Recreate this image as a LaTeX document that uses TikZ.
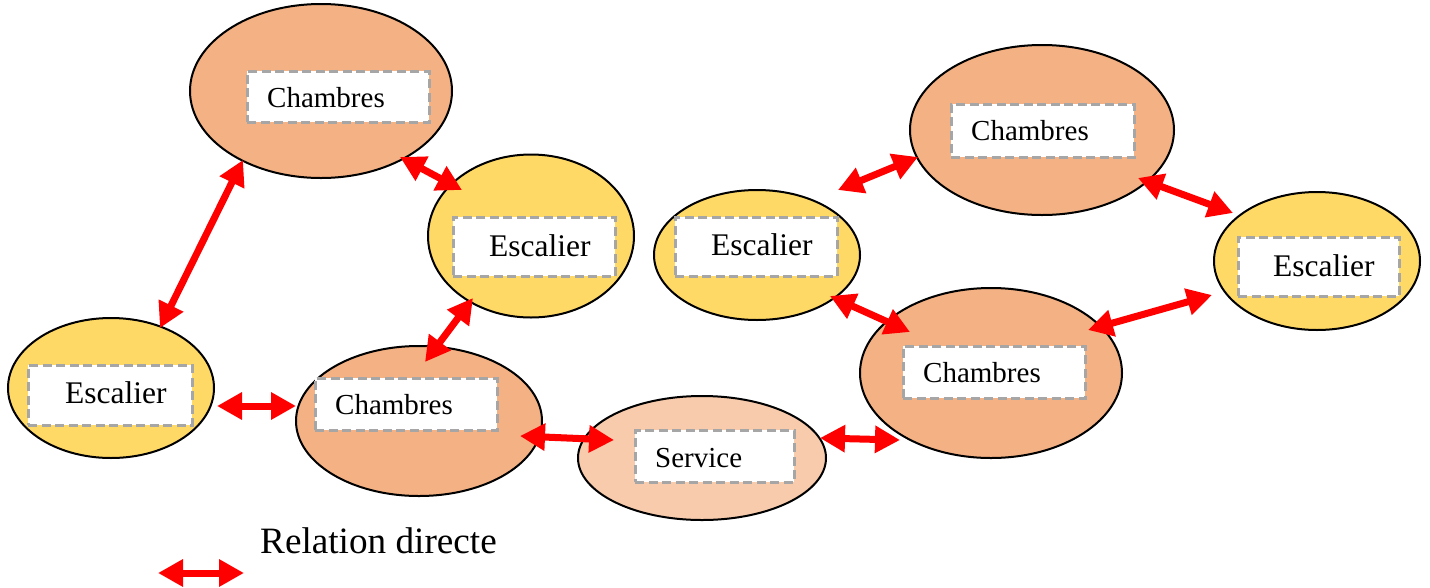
\documentclass[tikz,border=0pt]{standalone}
\usepackage{fontspec}
\setmainfont{Liberation Serif}
\usetikzlibrary{shapes.geometric,arrows.meta}
\definecolor{chcol}{HTML}{F4B183}
\definecolor{escol}{HTML}{FFD966}
\definecolor{secol}{HTML}{F8CBAD}
\definecolor{boxgray}{HTML}{A6A6A6}
\definecolor{relred}{HTML}{FF0000}
\tikzset{
  blob/.style={ellipse, draw=black, line width=2pt, inner sep=0pt, outer sep=0pt},
  chb/.style={blob, fill=chcol},
  esc/.style={blob, fill=escol},
  srv/.style={blob, fill=secol},
  lbox/.style={rectangle, draw=boxgray, fill=white, line width=2.8pt, dash pattern=on 9pt off 4.5pt, inner sep=0pt, anchor=north west},
  lbl/.style={anchor=base west, inner sep=0pt, text=black},
  rel/.style={draw=relred, line width=7pt, {Triangle[width=26pt,length=25pt]}-{Triangle[width=26pt,length=25pt]}}
}
\begin{document}
\begin{tikzpicture}[x=1pt,y=-1pt]
\useasboundingbox (0,0) rectangle (1430,587);
% ellipses
\node[chb, minimum width=262pt, minimum height=174pt] (c1) at (321,91) {};
\node[esc, minimum width=206pt, minimum height=163pt] (e2) at (531,236) {};
\node[esc, minimum width=206pt, minimum height=140pt] (e1) at (111,388) {};
\node[chb, minimum width=246pt, minimum height=150pt] (c2) at (419,421) {};
\node[srv, minimum width=248pt, minimum height=124pt] (s) at (702,458) {};
\node[esc, minimum width=206pt, minimum height=130pt] (e3) at (757,255) {};
\node[chb, minimum width=264pt, minimum height=170pt] (c3) at (1042,130) {};
\node[esc, minimum width=206pt, minimum height=138pt] (e4) at (1317,261) {};
\node[chb, minimum width=262pt, minimum height=170pt] (c4) at (991,373) {};
% label boxes
\node[lbox, minimum width=182pt, minimum height=51pt] (b1) at (246,70) {};
\node[lbox, minimum width=162pt, minimum height=59pt] (b2) at (452,216) {};
\node[lbox, minimum width=164pt, minimum height=60pt] (b3) at (27,364) {};
\node[lbox, minimum width=182pt, minimum height=52pt] (b4) at (314,377) {};
\node[lbox, minimum width=159pt, minimum height=52pt] (b5) at (634,429) {};
\node[lbox, minimum width=162pt, minimum height=59pt] (b6) at (674,216) {};
\node[lbox, minimum width=183pt, minimum height=53pt] (b7) at (950,103) {};
\node[lbox, minimum width=161pt, minimum height=59pt] (b8) at (1237,236) {};
\node[lbox, minimum width=182pt, minimum height=52pt] (b9) at (902,345) {};
% texts
\node[lbl, font=\fontsize{29}{34}\selectfont] (t1) at (267,107) {Chambres};
\node[lbl, font=\fontsize{31.5}{36}\selectfont] (t2) at (489,256) {Escalier};
\node[lbl, font=\fontsize{31.5}{36}\selectfont] (t3) at (65,403) {Escalier};
\node[lbl, font=\fontsize{29}{34}\selectfont] (t4) at (335,414) {Chambres};
\node[lbl, font=\fontsize{29}{34}\selectfont] (t5) at (655,467) {Service};
\node[lbl, font=\fontsize{31.5}{36}\selectfont] (t6) at (711,255) {Escalier};
\node[lbl, font=\fontsize{29}{34}\selectfont] (t7) at (971,140) {Chambres};
\node[lbl, font=\fontsize{31.5}{36}\selectfont] (t8) at (1273,276) {Escalier};
\node[lbl, font=\fontsize{29}{34}\selectfont] (t9) at (923,382) {Chambres};
\node[lbl, font=\fontsize{37.2}{43}\selectfont] (leg) at (260,553) {Relation directe};
% relations
\draw[rel] ([shift={(-78,69)}]c1.center) -- ([shift={(49,-60)}]e1.center);
\draw[rel] ([shift={(79,66)}]c1.center) -- ([shift={(-69,-46)}]e2.center);
\draw[rel] ([shift={(-58,62)}]e2.center) -- ([shift={(6,-59)}]c2.center);
\draw[rel] ([shift={(106,18)}]e1.center) -- ([shift={(-123,-15)}]c2.center);
\draw[rel] ([shift={(101,15)}]c2.center) -- ([shift={(-88,-18)}]s.center);
\draw[rel] ([shift={(118,-20)}]s.center) -- ([shift={(-91,67)}]c4.center);
\draw[rel] ([shift={(81,-65)}]e3.center) -- ([shift={(-124,27)}]c3.center);
\draw[rel] ([shift={(96,48)}]c3.center) -- ([shift={(-84,-48)}]e4.center);
\draw[rel] ([shift={(73,41)}]e3.center) -- ([shift={(-81,-41)}]c4.center);
\draw[rel] ([shift={(97,-43)}]c4.center) -- ([shift={(-105,34)}]e4.center);
\coordinate (l1) at (158,573);
\coordinate (l2) at (244,573);
\draw[rel] (l1) -- (l2);
\end{tikzpicture}
\end{document}
